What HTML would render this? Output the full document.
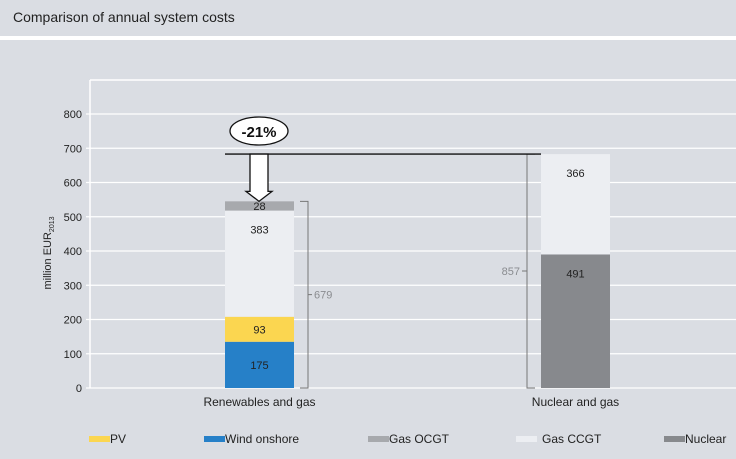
<!DOCTYPE html>
<html><head><meta charset="utf-8"><style>
html,body{margin:0;padding:0;background:#dadde3;}
svg{display:block;font-family:"Liberation Sans",sans-serif;}
</style></head><body>
<svg id="chart" width="736" height="459" viewBox="0 0 736 459">
<rect x="0" y="0" width="736" height="459" fill="#dadde3"/>
<text x="13" y="22" font-size="14" fill="#222">Comparison of annual system costs</text>
<rect x="0" y="36" width="736" height="4" fill="#ffffff"/>
<line x1="90" y1="80" x2="90" y2="388" stroke="#fff" stroke-width="1.5"/>
<line x1="90" y1="80" x2="736" y2="80" stroke="#fff" stroke-width="1.5"/>
<g id="grid"></g>
<text transform="translate(51,253) rotate(-90)" text-anchor="middle" font-size="11" fill="#222">million EUR<tspan font-size="7" dy="3">2013</tspan></text>
<g id="bars"></g>
<g id="annot"></g>
<g id="legend"></g>
</svg>
<script>
const categories=["Renewables and gas","Nuclear and gas"];
const seriesNames=["Wind onshore","PV","Gas CCGT","Gas OCGT","Nuclear"];
const seriesColors=["#2680c8","#fbd650","#eceef2","#a7a9ad","#87898d"];
const renewablesValues=[135,73,310,27,0];
const nuclearValues=[0,0,293,0,390];
const renewablesLabels=["175","93","383","28",""];
const nuclearLabels=["","","366","","491"];
const totals=["679","857"];
const yTicks=[0,100,200,300,400,500,600,700,800];
const reductionLabel="-21%";

const NS="http://www.w3.org/2000/svg";
function yScale(v){return 388-v*(274/800);}
const barX=[225,541], barW=69;
function mk(tag,attrs,parent){const e=document.createElementNS(NS,tag);for(const k in attrs)e.setAttribute(k,attrs[k]);parent.appendChild(e);return e;}
const grid=document.getElementById('grid');
yTicks.forEach(t=>{
  const l=mk('line',{x1:86,x2:736,y1:yScale(t),y2:yScale(t),stroke:'#fff','stroke-width':1.2},grid);
  
  
  const tx=mk('text',{x:82,y:yScale(t)+4,'text-anchor':'end','font-size':11,fill:'#222'},grid);
  tx.textContent=t;
  
  
});
const bars=document.getElementById('bars');
function drawStack(ci,vals,labels,order){
  let base=0;
  order.forEach(si=>{
    const v=vals[si]; if(!v)return;
    const r=mk('rect',{x:barX[ci],y:yScale(base+v),width:barW,height:yScale(base)-yScale(base+v),fill:seriesColors[si]},bars);
    
    
    if(labels[si]){
      const big=v>150;
      const ty=big?yScale(base+v)+23:yScale(base+v/2)+4;
      const t=mk('text',{x:barX[ci]+barW/2,y:ty,'text-anchor':'middle','font-size':11,fill:'#222'},bars);
      t.textContent=labels[si];
      
      
    }
    base+=v;
  });
  return base;
}
const totR=drawStack(0,renewablesValues,renewablesLabels,[0,1,2,3]);
const totN=drawStack(1,nuclearValues,nuclearLabels,[4,2]);
categories.forEach((c,i)=>{
  const t=mk('text',{x:barX[i]+barW/2,y:406,'text-anchor':'middle','font-size':12,fill:'#222'},bars);
  t.textContent=c;
  
  
});
const an=document.getElementById('annot');
let b1=mk('path',{d:`M300 ${yScale(totR)} H308 V388 H300 M308 ${(yScale(totR)+388)/2} H312`,fill:'none',stroke:'#777','stroke-width':1},an);


let t1=mk('text',{x:314,y:(yScale(totR)+388)/2+4,'font-size':11,fill:'#8a8c90'},an);
t1.textContent=totals[0];


let b2=mk('path',{d:`M535 ${yScale(totN)} H527 V388 H535 M527 ${(yScale(totN)+388)/2} H522`,fill:'none',stroke:'#777','stroke-width':1},an);


let t2=mk('text',{x:520,y:(yScale(totN)+388)/2+4,'text-anchor':'end','font-size':11,fill:'#8a8c90'},an);
t2.textContent=totals[1];


const ly=yScale(totN);
let rl=mk('line',{x1:225,x2:541,y1:ly,y2:ly,stroke:'#111','stroke-width':1.3},an);


const ax=259,arrowTop=ly,arrowBot=yScale(totR);
let ar=mk('path',{d:`M${ax-9} ${arrowTop} V${arrowBot-10} H${ax-13} L${ax} ${arrowBot} L${ax+13} ${arrowBot-10} H${ax+9} V${arrowTop} Z`,fill:'#fff',stroke:'#111','stroke-width':1.3},an);


let el=mk('ellipse',{cx:ax,cy:131,rx:29,ry:14,fill:'#fff',stroke:'#111','stroke-width':1.3},an);


let rt=mk('text',{x:ax,y:137,'text-anchor':'middle','font-size':15,'font-weight':'bold',fill:'#111'},an);
rt.textContent=reductionLabel;


const lg=document.getElementById('legend');
const legOrder=[1,0,3,2,4];const legX=[89,204,368,516,664];
legOrder.forEach((si,i)=>{
  const r=mk('rect',{x:legX[i],y:436,width:21,height:6,fill:seriesColors[si]},lg);
  
  
  const t=mk('text',{x:legX[i]+(si===2?26:21),y:443,'font-size':12,fill:'#222'},lg);
  t.textContent=si===1?"PV":seriesNames[si];
  
  
});
</script>
</body></html>
